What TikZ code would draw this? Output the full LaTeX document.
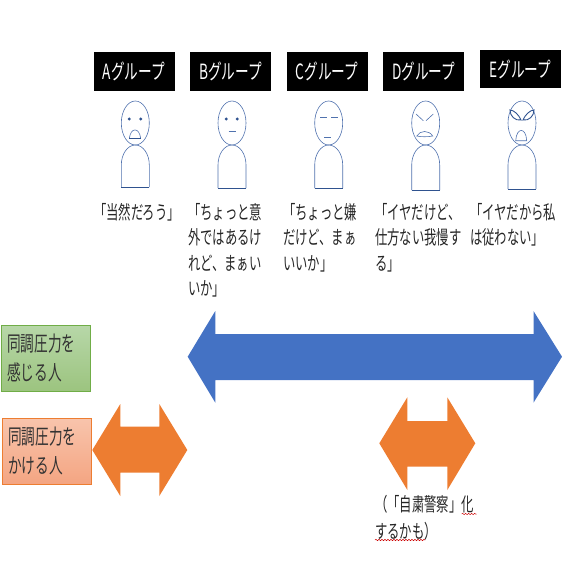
\documentclass[tikz,border=0pt]{standalone}
\usepackage{fontspec}
\usepackage{xcolor}
\usetikzlibrary{decorations.pathmorphing}
\newfontfamily\jpfont[FakeStretch=0.65]{Noto Sans CJK JP}
\definecolor{lineblue}{HTML}{2F528F}
\definecolor{figblue}{HTML}{5072AE}
\definecolor{arrowblue}{HTML}{4472C4}
\definecolor{arroworange}{HTML}{ED7D31}
\definecolor{greentop}{HTML}{B7D7A8}
\definecolor{greenbot}{HTML}{9CC47F}
\definecolor{greenedge}{HTML}{70AD47}
\definecolor{salmontop}{HTML}{F8C4AC}
\definecolor{salmonbot}{HTML}{F4A582}
\tikzset{
    grouplabel/.style={fill=black, text=white, minimum width=81, minimum height=39, inner sep=0pt, font=\jpfont\fontsize{21}{22}\selectfont},
    saying/.style={anchor=north west, align=left, inner sep=0pt, text=black!85, font=\jpfont\fontsize{19}{25.5}\selectfont},
    sidebox/.style={anchor=north west, align=left, text width=77, minimum height=65.5, inner xsep=6pt, inner ysep=0pt, text=black!80, font=\jpfont\fontsize{21}{29}\selectfont},
    figure/.style={figblue, line width=0.6pt},
    wavy/.style={red!80!black, line width=0.5pt, decorate, decoration={snake, amplitude=0.7pt, segment length=3pt}}
}

\begin{document}
\begin{tikzpicture}[x=1pt, y=-1pt]
    \useasboundingbox (0,0) rectangle (562,562);
    % Group headers
    \node[grouplabel] (grpA) at (134,71.5) {Aグループ};
    \node[grouplabel] (grpB) at (230.5,71.5) {Bグループ};
    \node[grouplabel] (grpC) at (327.2,71.5) {Cグループ};
    \node[grouplabel] (grpD) at (423.7,71.5) {Dグループ};
    \node[grouplabel, minimum height=38] (grpE) at (520.3,69) {Eグループ};
    % People
    \foreach \cx/\foot in {135.3/187, 232/188, 328.7/188, 425.7/190, 522/189} {
        \begin{scope}[shift={(\cx,0)}]
            \draw[figure] (0,123) ellipse [x radius=14, y radius=22];
            \draw[figure] (-14,\foot) -- (-14,165) .. controls (-14,154) and (-7.7,145) .. (0,145)
                .. controls (7.7,145) and (14,154) .. (14,165) -- (14,\foot);
            \draw[lineblue, line width=0.9pt] (-14,\foot) -- (14,\foot);
        \end{scope}
    }
    % Faces
    \fill[lineblue] (129.3,119) circle (1.6) (140.7,119) circle (1.6);
    \draw[figure] (129.3,138.7) .. controls (130.5,127) and (139.5,127) .. (140.7,138.7);
    \draw[lineblue, line width=0.9pt] (129.3,138.7) -- (140.7,138.7);
    \fill[lineblue] (226.3,119) circle (1.6) (237.3,119) circle (1.6);
    \draw[figure] (228.7,131) -- (235.7,131);
    \draw[figure] (320,117.3) -- (326.7,117.3) (331,117.3) -- (337.7,117.3);
    \draw[figure] (324,137.5) -- (331,137.5);
    \draw[figure] (416,114) -- (423.3,120.7) (426,120.7) -- (433.3,114);
    \draw[figure] (416.7,136) .. controls (420,130) and (429,130) .. (432.7,136) .. controls (428,137) and (421,137) .. (416.7,136) -- cycle;
    \draw[lineblue, line width=0.9pt] (510,110) .. controls (510,116) and (515,121) .. (521,120) .. controls (519,115) and (514,110) .. (510,110) -- cycle;
    \draw[lineblue, line width=0.9pt] (534,110) .. controls (534,116) and (529,121) .. (523,120) .. controls (525,115) and (530,110) .. (534,110) -- cycle;
    \draw[figure] (515.7,140.7) .. controls (516.5,127) and (526,127) .. (526.7,140.7) -- cycle;
    % What each group says
    \node[saying] (sayA) at (94,203) {「当然だろう」};
    \node[saying] (sayB) at (188,203) {「ちょっと意\\外ではあるけ\\れど、まぁい\\いか」};
    \node[saying] (sayC) at (283,203) {「ちょっと嫌\\だけど、まぁ\\いいか」};
    \node[saying] (sayD) at (375,203) {「イヤだけど、\\仕方ない我慢す\\る」};
    \node[saying] (sayE) at (470,203) {「イヤだから私\\は従わない」};
    % Side labels
    \node[sidebox, top color=greentop, bottom color=greenbot, draw=greenedge] (press1) at (1,325.3) {同調圧力を\\感じる人};
    \node[sidebox, top color=salmontop, bottom color=salmonbot, draw=arroworange] (press2) at (2,418.3) {同調圧力を\\かける人};
    % Arrows
    \fill[arrowblue] (187.7,356.7) -- (215.3,311) -- (215.3,334) -- (533.5,334) -- (533.5,311) -- (562,356.7)
        -- (533.5,402.7) -- (533.5,380) -- (215.3,380) -- (215.3,402.7) -- cycle;
    \fill[arroworange] (92.3,450) -- (120.3,404) -- (120.3,426.7) -- (159.3,426.7) -- (159.3,404) -- (187.3,450)
        -- (159.3,496) -- (159.3,472.7) -- (120.3,472.7) -- (120.3,496) -- cycle;
    \fill[arroworange] (379.3,443.3) -- (407.3,397.3) -- (407.3,421) -- (447.3,421) -- (447.3,397.3) -- (475.3,443.3)
        -- (447.3,490) -- (447.3,466.7) -- (407.3,466.7) -- (407.3,490) -- cycle;
    % Note under the right arrow
    \node[saying] (note) at (375,495) {（「自粛警察」化\\[1.5pt]するかも）};
    \draw[wavy] (461.7,514) -- (476.7,514);
    \draw[wavy] (375,540) -- (425,540);
\end{tikzpicture}
\end{document}
